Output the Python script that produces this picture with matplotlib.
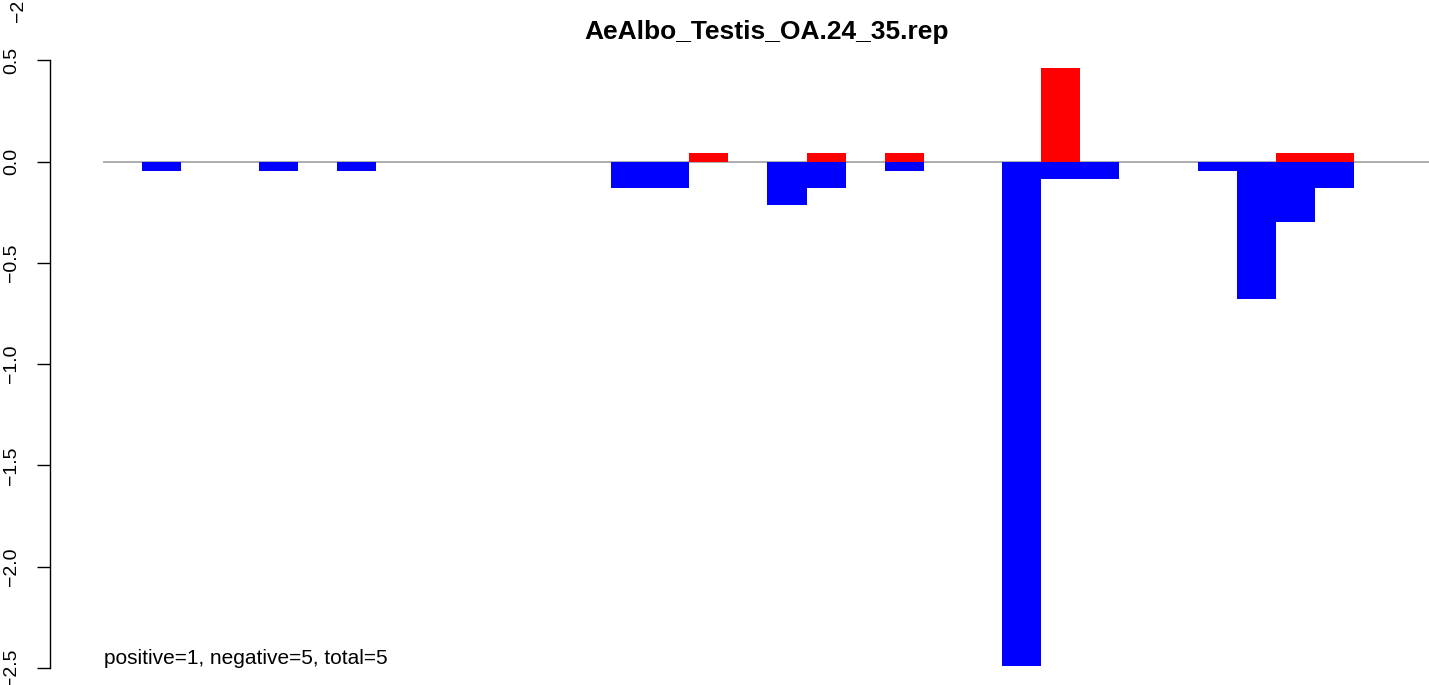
import matplotlib
matplotlib.use("Agg")
import matplotlib.pyplot as plt
import numpy as np

plt.rcParams['font.family'] = ['Liberation Sans', 'DejaVu Sans']

title = "AeAlbo_Testis_OA.24_35.rep"
note = "positive=1, negative=5, total=5"

# bar slot index and value
blue_slots = [1, 4, 6, 13, 14, 17, 18, 20, 23, 24, 25, 28, 29, 30, 31]
blue_vals = [-0.045, -0.045, -0.045, -0.128, -0.128, -0.212, -0.128, -0.045,
             -2.489, -0.084, -0.084, -0.045, -0.677, -0.296, -0.128]
red_slots = [15, 18, 20, 24, 30, 31]
red_vals = [0.043, 0.043, 0.043, 0.463, 0.043, 0.043]

ytick_vals = [-2.5, -2.0, -1.5, -1.0, -0.5, 0.0, 0.5]
ytick_labels = ["\u22122.5", "\u22122.0", "\u22121.5", "\u22121.0", "\u22120.5", "0.0", "0.5"]

W, H = 1429, 685
fig = plt.figure(figsize=(W / 100, H / 100), dpi=100)

# pixel geometry
ax_left, ax_right = 50, 1429
ax_top, ax_bot = 20, 685
zero_px, scale = 161.7, 202.5
x0_px, slot_w = 102.7, 39.1

ax = fig.add_axes([ax_left / W, 0, (ax_right - ax_left) / W, (ax_bot - ax_top) / H])
ax.set_ylim(-(ax_bot - zero_px) / scale, (zero_px - ax_top) / scale)
ax.set_xlim((ax_left - x0_px) / slot_w, (ax_right - x0_px) / slot_w)

ax.plot([0, 40], [0, 0], color='#A0A0A0', lw=1.2, zorder=1, solid_capstyle='butt')
ax.bar(blue_slots, blue_vals, width=1.0, align='edge', color='#0000FF', linewidth=0, zorder=2)
ax.bar(red_slots, red_vals, width=1.0, align='edge', color='#FF0000', linewidth=0, zorder=2)

for s in ['top', 'right', 'bottom']:
    ax.spines[s].set_visible(False)
ax.spines['left'].set_bounds(-2.5, 0.5)
ax.spines['left'].set_linewidth(1.0)
ax.set_xticks([])
ax.set_yticks(ytick_vals)
ax.set_yticklabels(ytick_labels, rotation=90, va='center', fontsize=14)
ax.tick_params(axis='y', length=9.4, width=1.0, pad=12)

ax.text((104 - x0_px) / slot_w, -(658 - zero_px) / scale, note, fontsize=15,
        ha='left', va='center')

fig.text(767 / W, 1 - 32 / H, title, fontsize=19, fontweight='bold', ha='center', va='center')
fig.text(18 / W, 1 - 3 / H, "\u22122.5", fontsize=14, rotation=90, ha='center', va='center')

fig.savefig("out.png", dpi=100)
